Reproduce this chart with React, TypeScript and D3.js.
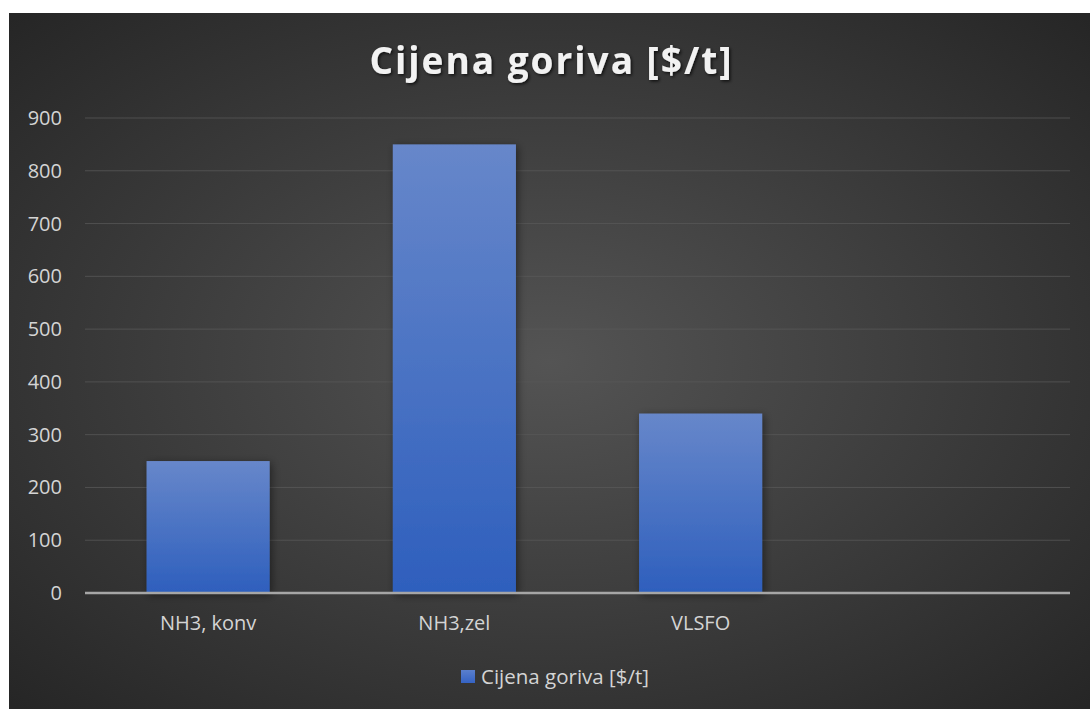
import React from "react";
import * as d3 from "d3";

// Fuel price per tonne, by fuel type
const categories = ["NH3, konv", "NH3,zel", "VLSFO", ""];
const prices = [250, 850, 340, null];
const yTicks = [0, 100, 200, 300, 400, 500, 600, 700, 800, 900];
const title = "Cijena goriva [$/t]";
const seriesName = "Cijena goriva [$/t]";

const W = 1090;
const H = 709;
const frame = { x: 9, y: 13, w: W - 9, h: H - 13 };
const plot = { left: 85, right: 1070, top: 118, bottom: 593 };
const font = "'Open Sans', 'Noto Sans', sans-serif";

export default function App() {
  const x = d3
    .scaleBand<string>()
    .domain(categories.map((c, i) => `${i}`))
    .range([plot.left, plot.right])
    .paddingInner(0.5)
    .paddingOuter(0.25);
  const y = d3.scaleLinear().domain([0, 900]).range([plot.bottom, plot.top]);

  return (
    <svg
      width={W}
      height={H}
      style={{ position: "absolute", left: 0, top: 0, display: "block" }}
    >
      <defs>
        <radialGradient id="bg" cx="50%" cy="50%" r="70%">
          <stop offset="0%" stopColor="#545454" />
          <stop offset="100%" stopColor="#262626" />
        </radialGradient>
        <linearGradient id="bar" x1="0" y1="0" x2="0" y2="1">
          <stop offset="0%" stopColor="#6787ca" />
          <stop offset="100%" stopColor="#2e5fbd" />
        </linearGradient>
        <linearGradient id="leg" x1="0" y1="0" x2="0" y2="1">
          <stop offset="0%" stopColor="#5a7fcc" />
          <stop offset="100%" stopColor="#3563c4" />
        </linearGradient>
        <filter id="barShadow" x="-20%" y="-20%" width="140%" height="140%">
          <feDropShadow dx="2" dy="2" stdDeviation="4" floodColor="#000" floodOpacity="0.45" />
        </filter>
        <filter id="titleShadow" x="-10%" y="-30%" width="120%" height="160%">
          <feDropShadow dx="1.5" dy="1.5" stdDeviation="1.5" floodColor="#000" floodOpacity="0.7" />
        </filter>
      </defs>

      <rect x={frame.x} y={frame.y} width={frame.w} height={frame.h} fill="url(#bg)" />

      <text
        x={(frame.x + W) / 2 + 2}
        y={74}
        textAnchor="middle"
        fill="#f2f2f2"
        fontFamily={font}
        fontWeight={700}
        fontSize={37}
        letterSpacing={2}
        filter="url(#titleShadow)"
      >
        {title}
      </text>

      {/* gridlines */}
      {yTicks.filter((t) => t > 0).map((t) => (
        <line
          key={t}
          x1={plot.left}
          x2={plot.right}
          y1={y(t)}
          y2={y(t)}
          stroke="#5a5a5a"
          strokeOpacity={0.75}
          strokeWidth={1}
        />
      ))}

      {/* y tick labels */}
      {yTicks.map((t) => (
        <text
          key={t}
          x={62}
          y={y(t)}
          dy="0.35em"
          textAnchor="end"
          fill="#d4d4d4"
          fontFamily={font}
          fontSize={20}
        >
          {t}
        </text>
      ))}

      {/* bars */}
      {prices.map((v, i) =>
        v == null ? null : (
          <rect
            key={i}
            x={x(`${i}`)}
            y={y(v)}
            width={x.bandwidth()}
            height={y(0) - y(v)}
            fill="url(#bar)"
            filter="url(#barShadow)"
          />
        )
      )}

      {/* baseline */}
      <line
        x1={plot.left}
        x2={plot.right}
        y1={y(0)}
        y2={y(0)}
        stroke="#a6a6a6"
        strokeWidth={2.5}
      />

      {/* category labels */}
      {categories.map((c, i) => (
        <text
          key={i}
          x={(x(`${i}`) ?? 0) + x.bandwidth() / 2}
          y={630}
          textAnchor="middle"
          fill="#d4d4d4"
          fontFamily={font}
          fontSize={20}
        >
          {c}
        </text>
      ))}

      {/* legend */}
      <rect x={461} y={670} width={14} height={13} fill="url(#leg)" />
      <text x={481} y={684} fill="#d4d4d4" fontFamily={font} fontSize={20.5}>
        {seriesName}
      </text>
    </svg>
  );
}
